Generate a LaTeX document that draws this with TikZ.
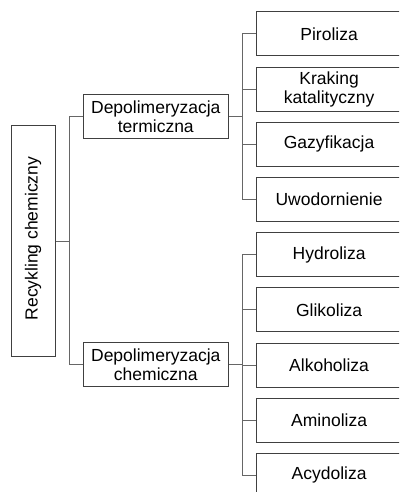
\documentclass[tikz,border=0pt]{standalone}
\usepackage{fontspec}
\setmainfont{Liberation Sans}
\begin{document}
\begin{tikzpicture}[x=1pt,y=-1pt,
  box/.style={draw=black!75, line width=1pt, fill=white, inner sep=0pt, align=center,
    font=\fontsize{17.5}{19}\selectfont},
  leaf/.style={box, minimum width=144.8pt, minimum height=44pt},
  mid/.style={box, minimum width=145pt, minimum height=44.5pt},
  conn/.style={draw=black!60, line width=1pt}]
\clip (0,0) rectangle (399,492);
\fill[white] (0,0) rectangle (399,492);
% root
\node[box, minimum width=44pt, minimum height=231.4pt] (root) at (33,241) {};
\node[rotate=90, font=\fontsize{17.5}{19}\selectfont] (roottxt) at (33,238.5) {Recykling chemiczny};
% mid
\node[mid] (term) at (155.8,116.7) {Depolimeryzacja\\termiczna};
\node[mid] (chem) at (155.8,364.7) {Depolimeryzacja\\chemiczna};
% leaves
\foreach \n/\t [count=\i from 0] in {p1/Piroliza, p2/{Kraking\\katalityczny}, p3/Gazyfikacja, p4/Uwodornienie,
   c1/Hydroliza, c2/Glikoliza, c3/Alkoholiza, c4/Aminoliza, c5/Acydoliza}
  \node[leaf] (\n) at (329.1, 34+55.17*\i) {\t};
% connectors
\coordinate (j0) at (69.3,241);
\coordinate (j1) at (242.3,116.7);
\coordinate (j2) at (242.3,364.7);
\draw[conn] (root.east |- j0) -- (j0);
\draw[conn] (j0 |- term.west) -- (j0 |- chem.west);
\draw[conn] (j0 |- term.west) -- (term.west);
\draw[conn] (j0 |- chem.west) -- (chem.west);
\draw[conn] (term.east) -- (j1);
\draw[conn] (chem.east) -- (j2);
\draw[conn] (j1 |- p1.west) -- (j1 |- p4.west);
\draw[conn] (j2 |- c1.west) -- (j2 |- c5.west);
\foreach \n in {p1,p2,p3,p4}
  \draw[conn] (j1 |- \n.west) -- (\n.west);
\foreach \n in {c1,c2,c3,c4,c5}
  \draw[conn] (j2 |- \n.west) -- (\n.west);
\end{tikzpicture}
\end{document}
